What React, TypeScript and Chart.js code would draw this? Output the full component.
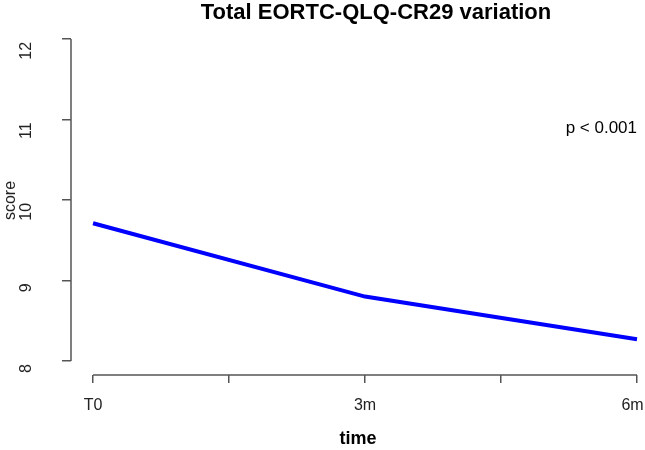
import { useEffect, useRef } from "react";
import { Chart, registerables } from "chart.js";

Chart.register(...registerables);

// ---- data ----
const timeLabels = ["T0", "3m", "6m"];
const timeMonths = [0, 3, 6];
const scores = [9.71, 8.8, 8.27];
const xTickValues = [0, 1.5, 3, 4.5, 6];
const yTickValues = [8, 9, 10, 11, 12];
const titleText = "Total EORTC-QLQ-CR29 variation";
const pValueText = "p < 0.001";
const xAxisTitle = "time";
const yAxisTitle = "score";

const FONT = '"Liberation Sans", Arial, Helvetica, sans-serif';
const AXIS_COLOR = "#555555";

const rStylePlugin = {
  id: "rStyle",
  afterDraw(chart: any) {
    const ctx = chart.ctx;
    const xs = chart.scales.x;
    const ys = chart.scales.y;
    const area = chart.chartArea;
    ctx.save();
    ctx.strokeStyle = AXIS_COLOR;
    ctx.lineWidth = 1.5;
    ctx.beginPath();
    ctx.moveTo(xs.getPixelForValue(xTickValues[0]), area.bottom);
    ctx.lineTo(xs.getPixelForValue(xTickValues[xTickValues.length - 1]), area.bottom);
    ctx.moveTo(area.left, ys.getPixelForValue(yTickValues[0]));
    ctx.lineTo(area.left, ys.getPixelForValue(yTickValues[yTickValues.length - 1]));
    ctx.stroke();

    ctx.fillStyle = "#000";
    ctx.font = `bold 22px ${FONT}`;
    ctx.textAlign = "center";
    ctx.textBaseline = "alphabetic";
    ctx.fillText(titleText, 376, 19);

    ctx.font = `17px ${FONT}`;
    ctx.textAlign = "right";
    ctx.fillText(pValueText, xs.getPixelForValue(timeMonths[timeMonths.length - 1]), 133);
    ctx.restore();
  },
};

export default function App() {
  const canvasRef = useRef<HTMLCanvasElement | null>(null);

  useEffect(() => {
    if (!canvasRef.current) return;
    const chart = new Chart(canvasRef.current, {
      type: "line",
      data: {
        datasets: [
          {
            label: "score",
            data: timeMonths.map((m, i) => ({ x: m, y: scores[i] })),
            borderColor: "#0000ff",
            borderWidth: 4,
            pointRadius: 0,
            tension: 0,
            fill: false,
          },
        ],
      },
      options: {
        responsive: false,
        animation: false,
        layout: { padding: { top: 26, right: 0, left: 0, bottom: 0 } },
        plugins: {
          legend: { display: false },
          title: { display: false },
          tooltip: { enabled: false },
        },
        scales: {
          x: {
            type: "linear",
            min: -0.243,
            max: 6.088,
            afterBuildTicks: (s: any) => {
              s.ticks = xTickValues.map((v) => ({ value: v }));
            },
            afterFit: (s: any) => {
              s.height = 75;
              s.paddingLeft = 0;
              s.paddingRight = 0;
            },
            border: { display: false },
            grid: {
              drawOnChartArea: false,
              drawTicks: true,
              tickLength: 8,
              color: AXIS_COLOR,
              lineWidth: 1.5,
            },
            ticks: {
              autoSkip: false,
              maxRotation: 0,
              padding: 13,
              color: "#222",
              font: { family: FONT, size: 16 },
              callback: (v: any) => {
                const i = timeMonths.indexOf(Number(v));
                if (i < 0) return "";
                // keep the last label inside the canvas (as in the reference)
                return i === timeMonths.length - 1 ? timeLabels[i] + "\u00a0\u00a0" : timeLabels[i];
              },
            },
            title: {
              display: true,
              text: xAxisTitle,
              color: "#000",
              font: { family: FONT, size: 18, weight: "bold" },
              padding: { top: 0, bottom: 0 },
            },
          },
          y: {
            type: "linear",
            min: 7.826,
            max: 12.16,
            afterBuildTicks: (s: any) => {
              s.ticks = yTickValues.map((v) => ({ value: v }));
            },
            afterFit: (s: any) => {
              s.width = 71;
              s.paddingTop = 0;
              s.paddingBottom = 0;
            },
            border: { display: false },
            grid: {
              drawOnChartArea: false,
              drawTicks: true,
              tickLength: 9,
              color: AXIS_COLOR,
              lineWidth: 1.5,
            },
            ticks: {
              autoSkip: false,
              minRotation: 90,
              maxRotation: 90,
              padding: 35,
              labelOffset: 3,
              color: "#222",
              font: { family: FONT, size: 16 },
            },
            title: {
              display: true,
              text: yAxisTitle,
              color: "#222",
              font: { family: FONT, size: 16 },
              padding: { top: 1, bottom: 0 },
            },
          },
        },
      },
      plugins: [rStylePlugin],
    });
    return () => chart.destroy();
  }, []);

  return (
    <div style={{ position: "absolute", left: 0, top: 0, width: 645, height: 450 }}>
      <canvas ref={canvasRef} width={645} height={450} style={{ width: 645, height: 450, display: "block" }} />
    </div>
  );
}
